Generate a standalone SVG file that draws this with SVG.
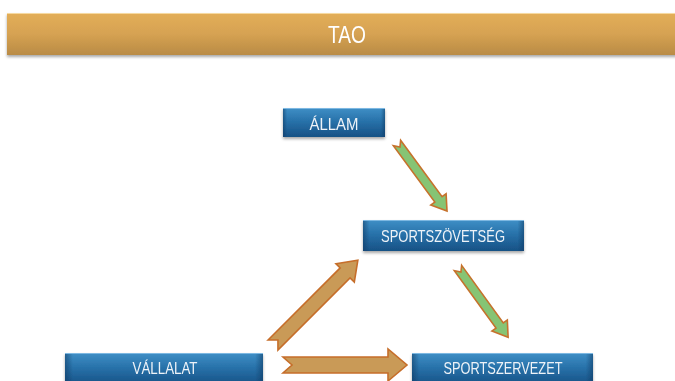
<svg xmlns="http://www.w3.org/2000/svg" width="675" height="381" viewBox="0 0 675 381">
  <defs>
    <linearGradient id="gTitle" x1="0" y1="0" x2="0" y2="1">
      <stop offset="0" stop-color="#E3AE58"/>
      <stop offset="0.5" stop-color="#D6A252"/>
      <stop offset="1" stop-color="#B98B45"/>
    </linearGradient>
    <linearGradient id="gBox" x1="0" y1="0" x2="0" y2="1">
      <stop offset="0" stop-color="#3F8FC6"/>
      <stop offset="0.45" stop-color="#2872AA"/>
      <stop offset="1" stop-color="#175185"/>
    </linearGradient>
    <linearGradient id="gSide" x1="0" y1="0" x2="1" y2="0">
      <stop offset="0" stop-color="#0F3A63" stop-opacity="0.55"/>
      <stop offset="0.04" stop-color="#0F3A63" stop-opacity="0"/>
      <stop offset="0.96" stop-color="#0F3A63" stop-opacity="0"/>
      <stop offset="1" stop-color="#0F3A63" stop-opacity="0.55"/>
    </linearGradient>
    <filter id="shadow" x="-10%" y="-30%" width="120%" height="170%">
      <feGaussianBlur in="SourceAlpha" stdDeviation="1.5"/>
      <feOffset dx="0" dy="2" result="b"/>
      <feComponentTransfer><feFuncA type="linear" slope="0.35"/></feComponentTransfer>
      <feMerge><feMergeNode/><feMergeNode in="SourceGraphic"/></feMerge>
    </filter>
  </defs>
  <style>
    .box { fill: url(#gBox); }
    .side { fill: url(#gSide); }
    .hl { stroke: #7DB8E2; stroke-width: 1; fill: none; }
    .lbl { font-family: "Liberation Sans", Arial, sans-serif; font-size: 17px; fill: #EEF3F8; text-anchor: middle; }
    .title { font-family: "Liberation Sans", Arial, sans-serif; font-size: 24px; fill: #FFFFFF; text-anchor: middle; }
    .green { fill: #86C474; stroke: #C6722C; stroke-width: 1.6; stroke-linejoin: miter; }
    .orange { fill: #C99A57; stroke: #C66E2A; stroke-width: 1.6; stroke-linejoin: miter; }
  </style>

  <rect width="675" height="381" fill="#FFFFFF"/>

  <g id="title" filter="url(#shadow)">
    <rect x="7" y="13" width="670" height="42" fill="url(#gTitle)"/>
    <line x1="7" y1="13.5" x2="675" y2="13.5" stroke="#F6D9A0" stroke-width="1"/>
    <text class="title" x="347" y="43" textLength="38" lengthAdjust="spacingAndGlyphs">TAO</text>
  </g>

  <g id="connectors">
    <!-- ÁLLAM -> SPORTSZÖVETSÉG -->
    <polygon class="green" transform="translate(397,143) rotate(53.7)" points="0,-4.5 70,-4.5 70,-9.5 84.5,0 70,9.5 70,4.5 0,4.5 5,0"/>
    <!-- SPORTSZÖVETSÉG -> SPORTSZERVEZET -->
    <polygon class="green" transform="translate(458,268) rotate(54.1)" points="0,-4.5 71,-4.5 71,-9.5 85.5,0 71,9.5 71,4.5 0,4.5 5,0"/>
    <!-- VÁLLALAT -> SPORTSZÖVETSÉG -->
    <polygon class="orange" transform="translate(273,345) rotate(-45)" points="0,-7 102,-7 102,-13 120,0 102,13 102,7 0,7 7,0"/>
    <!-- VÁLLALAT -> SPORTSZERVEZET -->
    <polygon class="orange" transform="translate(283,365)" points="0,-8 105,-8 105,-16 124,0 105,16 105,8 0,8 9,0"/>
  </g>

  <g id="allam" filter="url(#shadow)">
    <rect class="box" x="283" y="108" width="102" height="29"/>
    <rect class="side" x="283" y="108" width="102" height="29"/>
    <line class="hl" x1="283" y1="108.5" x2="385" y2="108.5"/>
    <text class="lbl" x="334" y="130" textLength="49" lengthAdjust="spacingAndGlyphs">ÁLLAM</text>
  </g>

  <g id="sportszovetseg" filter="url(#shadow)">
    <rect class="box" x="363" y="220" width="161" height="31"/>
    <rect class="side" x="363" y="220" width="161" height="31"/>
    <line class="hl" x1="363" y1="220.5" x2="524" y2="220.5"/>
    <text class="lbl" x="443" y="242" textLength="124" lengthAdjust="spacingAndGlyphs">SPORTSZÖVETSÉG</text>
  </g>

  <g id="vallalat" filter="url(#shadow)">
    <rect class="box" x="65" y="353" width="198" height="32"/>
    <rect class="side" x="65" y="353" width="198" height="32"/>
    <line class="hl" x1="65" y1="353.5" x2="263" y2="353.5"/>
    <text class="lbl" x="165" y="374" textLength="65" lengthAdjust="spacingAndGlyphs">VÁLLALAT</text>
  </g>

  <g id="sportszervezet" filter="url(#shadow)">
    <rect class="box" x="412" y="353" width="181" height="32"/>
    <rect class="side" x="412" y="353" width="181" height="32"/>
    <line class="hl" x1="412" y1="353.5" x2="593" y2="353.5"/>
    <text class="lbl" x="503" y="374" textLength="119" lengthAdjust="spacingAndGlyphs">SPORTSZERVEZET</text>
  </g>
</svg>
